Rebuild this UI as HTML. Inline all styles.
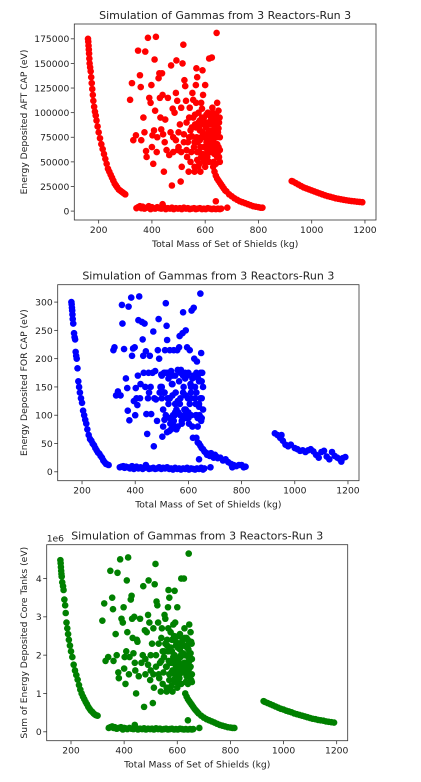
<!DOCTYPE html>
<html><head><meta charset="utf-8"><style>
html,body{margin:0;padding:0;background:#fff;}
svg{display:block;font-family:"DejaVu Sans","Liberation Sans",sans-serif;}
</style></head><body>
<svg id="fig" width="421" height="782" viewBox="0 0 421 782"></svg>
<script>
// ---------- Chart 1: AFT CAP ----------
const aftCurveAX=[160,161,162,163,164,165,166,168,170,172,174,176,178,180,183,186,189,192,196,200,205,210,215,220,225,230,235,240,245,250,255,260,265,270,275,280,285,290,295,300];
const aftCurveAY=[175000,172000,168000,164000,160000,155000,150000,146000,142000,136000,130000,124000,118000,112000,106000,101000,97000,92000,86000,80000,74000,68000,63000,58000,53000,48000,43000,40000,37000,34000,31000,28000,26000,24000,22000,21000,20000,19000,18000,17000];
const aftClusterX=[318,325,330,340,348,355,358,360,368,372,375,378,380,385,390,395,398,400,402,405,408,410,412,415,418,420,425,428,430,432,435,438,440,442,445,448,450,455,460,465,470,472,475,478,480,485,490,492,495,498,500,505,508,510,512,515,518,520,522,525,528,530,532,535,538,540,542,545,548,550,552,555,558,560,562,565,567,570,572,575,578,580,582,585,588,590,592,595,598,600,602,605,608,610,612,615,617,620,622,625,627,630,632,635,637,640,642,645,648,650,652,655,643,560,570,580,590,600,610,620,630,640,650,585,595,605,615,625,635,645,655];
const aftClusterY=[113000,130000,72000,77000,163000,138000,126000,72000,95000,80000,162000,61000,55000,176000,115000,110000,128000,65000,77000,48000,82000,154000,102000,177000,60000,75000,135000,140000,115000,95000,83000,140000,118000,78000,40000,70000,93000,62000,115000,57000,80000,148000,26000,104000,75000,100000,120000,153000,112000,62000,80000,88000,30000,105000,45000,150000,169000,78000,133000,127000,112000,90000,55000,70000,40000,95000,105000,82000,60000,76000,120000,113000,65000,45000,88000,128000,145000,136000,70000,100000,60000,82000,40000,110000,95000,143000,75000,65000,50000,128000,85000,70000,55000,100000,75000,155000,90000,60000,80000,156000,105000,70000,50000,95000,85000,60000,75000,110000,80000,65000,90000,50000,181000,40000,52000,92000,58000,45000,62000,92000,78000,48000,102000,75000,88000,98000,68000,88000,65000,55000,75000];
const aftDenseX=[560,565,570,575,580,585,590,595,600,605,610,615,620,625,630,635,640,645,650,655,562,568,574,582,588,594,602,608,614,622,628,634,642,648,654,566,578,592,604,618,632,646,652,576,598,612,626,638,530,540,550,520,545,555,510,500,490,480];
const aftDenseY=[70000,85000,60000,90000,72000,55000,80000,95000,65000,78000,88000,50000,70000,92000,82000,58000,98000,68000,84000,62000,98000,75000,45000,65000,104000,52000,90000,62000,82000,68000,100000,74000,88000,60000,95000,110000,48000,118000,58000,97000,63000,76000,55000,85000,76000,66000,73000,92000,62000,75000,85000,70000,50000,95000,60000,65000,72000,60000];
const bottomX=[342,348,355,360,365,372,380,388,395,400,405,412,420,428,435,440,445,452,460,468,475,482,490,498,505,512,520,528,535,542,550,558,565,572,580,588,595,602,610,618,625,632,640,648,655,660,640,683];
const aftBottomY=[3000,4000,5000,3000,4500,2500,3500,5000,2000,4000,3000,2500,4000,3000,2500,7000,4000,2000,3000,2500,3500,2000,3000,2500,3000,2000,3500,2500,3000,2000,2500,3000,2000,2500,3000,2000,2500,2000,3000,2500,2000,2500,2000,2500,2000,2500,10000,3500];
const aftCurveBX=[630,635,640,645,650,655,660,665,670,675,680,690,700,710,720,730,740,750,760,770,780,790,800,808,815];
const aftCurveBY=[45000,40000,36000,33000,31000,29000,27000,25000,23000,21000,20000,17000,15000,13000,11500,10000,9000,8000,7000,6000,5000,4500,4000,3500,3500];
const aftCurveCX=[925,930,940,950,960,970,980,990,1000,1010,1020,1030,1040,1050,1060,1070,1080,1090,1100,1110,1120,1130,1140,1150,1160,1170,1180,1190];
const aftCurveCY=[30500,30000,28500,27000,25500,24000,23000,22000,21000,20000,19000,18000,17000,16000,15200,14500,13800,13000,12500,12000,11500,11000,10600,10200,9900,9600,9300,9000];
const aftTicks=[0,25000,50000,75000,100000,125000,150000,175000];

// ---------- Chart 2: FOR CAP ----------
const forCurveAX=[160,161,162,163,164,165,167,170,172,174,176,178,180,183,186,189,192,196,200,204,208,212,216,220,225,230,235,240,245,250,255,260,265,270,275,280,285,290,295,300];
const forCurveAY=[300,296,290,285,278,270,262,245,238,234,212,205,200,183,160,150,140,130,122,108,100,92,85,75,65,58,55,50,47,42,38,34,32,28,25,20,17,14,13,12];
const forClusterX=[318,322,328,335,345,350,352,358,365,370,372,375,378,385,388,392,395,398,400,402,405,408,410,412,415,418,420,425,428,430,432,435,438,440,442,445,448,450,452,455,458,460,465,468,470,472,475,478,482,485,488,490,492,495,498,500,502,505,508,510,512,515,518,520,522,525,528,530,532,535,538,540,542,545,548,550,552,555,558,560,562,565,567,570,572,575,578,580,582,585,588,590,592,595,598,600,602,605,608,610,612,615,617,620,622,625,627,630,632,635,637,640,642,645,648,650,652,655,560,570,580,590,600,610,620,630,640,650,540,550,530,520,510,500];
const forClusterY=[215,220,135,142,135,295,262,217,165,148,108,292,91,308,205,218,125,220,100,148,130,118,170,268,310,130,155,265,234,205,175,262,150,213,102,67,130,175,140,205,150,102,175,248,45,130,178,128,90,215,270,200,140,150,172,130,62,110,175,92,215,298,258,233,130,165,72,215,85,178,155,135,100,215,80,170,140,75,215,180,105,220,240,130,180,90,245,282,150,110,165,250,95,220,130,175,85,215,155,100,285,165,60,290,200,130,120,175,195,80,165,160,100,315,210,130,175,110,125,100,170,135,105,150,170,140,115,95,170,105,130,175,140,170];
const forDenseX=[505,515,525,535,545,555,565,575,585,595,605,615,625,635,645,650,510,520,530,540,550,560,570,580,590,600,610,620,630,640,648,655,500,512,528,548,568,588,608,628,646];
const forDenseY=[80,100,120,75,90,110,160,85,100,170,120,80,150,95,130,160,140,70,95,155,120,80,175,140,110,95,140,170,100,120,90,150,150,175,130,100,120,175,130,100,175];
const forBottomY=[8,9,10,7,9,8,6,10,5,7,9,6,8,5,7,12,8,5,6,7,5,6,8,5,7,6,8,5,6,4,7,5,6,4,6,5,7,4,6,5,4,6,5,7,4,6,22,8];
const forCurveBX=[630,635,640,645,650,655,660,665,670,675,680,685,690,695,700,705,710,720,730,740,750,760,765,770,780,790,800,808,815];
const forCurveBY=[60,52,50,46,42,40,36,34,30,32,28,33,30,25,30,27,24,25,20,22,17,14,8,12,10,12,12,8,9];
const forCurveCX=[925,935,945,950,955,965,975,985,1000,1010,1020,1030,1040,1050,1060,1070,1080,1090,1100,1110,1120,1130,1140,1150,1160,1170,1175,1180,1190];
const forCurveCY=[68,65,60,65,55,48,45,48,42,40,37,38,35,38,40,36,30,25,35,37,27,22,35,28,25,22,18,24,26];
const forTicks=[0,50,100,150,200,250,300];

// ---------- Chart 3: Core tanks ----------
const coreCurveAX=[160,161,162,163,164,165,167,170,172,175,178,180,183,186,189,192,196,200,205,210,215,220,225,230,235,240,245,250,255,260,265,270,275,280,285,290,295,300];
const coreCurveAY=[4.48,4.4,4.3,4.2,4.12,4.05,3.9,3.8,3.7,3.45,3.3,3.1,2.85,2.7,2.55,2.4,2.25,2.1,1.95,1.75,1.6,1.48,1.36,1.22,1.1,1.0,0.92,0.85,0.78,0.72,0.65,0.6,0.55,0.52,0.48,0.45,0.43,0.42];
const coreClusterX=aftClusterX.slice();
const coreClusterY=[2.9,3.35,1.85,1.95,4.2,3.5,3.2,1.85,2.55,2.0,4.15,1.55,1.4,4.5,2.95,2.85,3.25,1.65,1.95,1.25,2.1,3.95,2.6,4.55,1.5,1.95,3.45,3.55,2.95,2.45,2.05,3.0,1.8,1.6,1.0,2.4,2.35,1.45,2.95,1.8,2.0,3.8,0.65,2.65,1.9,2.6,3.05,3.95,2.85,1.35,2.0,2.3,0.75,2.7,1.15,3.85,4.38,2.0,3.4,3.3,2.85,2.3,1.4,1.8,1.05,2.45,2.7,2.1,1.55,1.95,3.05,2.95,1.7,1.15,2.25,3.25,3.7,3.5,1.8,2.6,1.55,2.1,1.05,2.8,2.45,3.68,1.95,1.7,1.3,3.25,2.2,1.8,1.4,2.55,1.95,4.0,2.3,1.55,2.05,4.0,2.7,1.8,1.3,2.45,2.2,1.55,1.95,2.8,2.05,1.7,2.35,1.3,4.65,1.05,1.35,2.4,1.5,1.15,1.6,2.4,2.0,1.25,2.6,1.95,2.25,2.5,1.75,2.25,1.7,1.45,1.9];
const coreDenseX=aftDenseX.slice();
const coreDenseY=[1.7,2.1,1.5,2.2,1.8,1.35,2.0,2.35,1.6,1.9,2.15,1.25,1.7,2.25,2.0,1.45,2.4,1.65,2.05,1.5,2.4,1.85,1.1,1.6,2.5,1.3,2.2,1.5,2.0,1.65,2.45,1.8,2.15,1.45,2.3,2.7,1.2,2.85,1.4,2.35,1.55,1.85,1.35,2.1,1.85,1.6,1.8,2.25,1.5,1.85,2.1,1.7,1.25,2.3,1.5,1.6,1.75,1.5];
const coreBottomY=[0.1,0.12,0.14,0.1,0.12,0.08,0.1,0.12,0.06,0.1,0.09,0.07,0.1,0.08,0.07,0.18,0.1,0.06,0.08,0.07,0.09,0.06,0.08,0.07,0.08,0.06,0.09,0.07,0.08,0.06,0.07,0.08,0.06,0.07,0.08,0.06,0.07,0.06,0.08,0.07,0.06,0.07,0.06,0.07,0.06,0.07,0.3,0.1];
const coreCurveBX=[630,635,640,645,650,655,660,665,670,675,680,690,700,710,720,730,740,750,760,770,780,790,800,808,815];
const coreCurveBY=[1.0,0.92,0.85,0.8,0.75,0.7,0.65,0.6,0.56,0.52,0.48,0.42,0.37,0.33,0.3,0.27,0.24,0.21,0.18,0.16,0.14,0.12,0.11,0.1,0.1];
const coreCurveCX=[925,930,940,950,960,970,980,990,1000,1010,1020,1030,1040,1050,1060,1070,1080,1090,1100,1110,1120,1130,1140,1150,1160,1170,1180,1190];
const coreCurveCY=[0.8,0.78,0.75,0.72,0.69,0.66,0.63,0.6,0.58,0.55,0.53,0.51,0.48,0.46,0.44,0.42,0.4,0.38,0.36,0.34,0.33,0.31,0.3,0.29,0.27,0.26,0.25,0.24];
const coreTicks=[0,1,2,3,4];

const xTicks=[200,400,600,800,1000,1200];
const NS="http://www.w3.org/2000/svg";
const fig=document.getElementById('fig');

function mk(tag,attrs,parent){const e=document.createElementNS(NS,tag);for(const k in attrs)e.setAttribute(k,attrs[k]);parent.appendChild(e);return e;}

function drawChart(cfg,xs,ys){
  const g=mk('g',{},fig);
  
  
  const L=cfg.box[0],R=cfg.box[1],T=cfg.box[2],B=cfg.box[3];
  const xmin=108.5,xmax=1241.5;
  let ymax=-Infinity;ys.forEach(v=>{if(v>ymax)ymax=v;});
  const ymin=-ymax*0.05,ymx=ymax*1.05;
  const sx=v=>L+(v-xmin)/(xmax-xmin)*(R-L);
  const sy=v=>B-(v-ymin)/(ymx-ymin)*(B-T);
  for(let i=0;i<xs.length;i++){
    const c=mk('circle',{cx:sx(xs[i]).toFixed(2),cy:sy(ys[i]).toFixed(2),r:3.3,fill:cfg.color},g);
    
    
  }
  const frame=mk('rect',{x:L,y:T,width:R-L,height:B-T,fill:'none',stroke:'#333','stroke-width':0.8},g);
  
  
  xTicks.forEach(t=>{
    const x=sx(t);
    mk('line',{x1:x,x2:x,y1:B,y2:B+3.5,stroke:'#333','stroke-width':0.8},g);
    const tx=mk('text',{x:x,y:B+13,'font-size':9.2,'text-anchor':'middle',fill:'#222'},g);
    tx.textContent=t;
    
    
  });
  cfg.ticks.forEach(t=>{
    const y=sy(t);
    mk('line',{x1:L-3.5,x2:L,y1:y,y2:y,stroke:'#333','stroke-width':0.8},g);
    const tx=mk('text',{x:L-5,y:y+3.4,'font-size':9.2,'text-anchor':'end',fill:'#222'},g);
    tx.textContent=t;
    
    
  });
  const ti=mk('text',{x:(L+R)/2,y:T-5,'font-size':11,'text-anchor':'middle',fill:'#222'},g);
  ti.textContent='Simulation of Gammas from 3 Reactors-Run 3';
  
  
  const xl=mk('text',{x:(L+R)/2,y:B+27,'font-size':9.2,'text-anchor':'middle',fill:'#222'},g);
  xl.textContent='Total Mass of Set of Shields (kg)';
  
  
  const yc=(T+B)/2;
  const yl=mk('text',{x:cfg.ylx,y:yc,'font-size':9.2,'text-anchor':'middle',fill:'#222',transform:'rotate(-90 '+cfg.ylx+' '+yc+')'},g);
  yl.textContent=cfg.ylabel;
  
  
  if(cfg.offset){
    const o=mk('text',{x:L,y:T-3,'font-size':9.2,fill:'#222'},g);
    o.textContent=cfg.offset;
    
    
  }
}

drawChart({name:'aft-cap-chart',box:[74.3,376,24,220],color:'#ff0000',ticks:aftTicks,ylx:27,ylabel:'Energy Deposited AFT CAP (eV)'},
  aftCurveAX.concat(aftClusterX,aftDenseX,bottomX,aftCurveBX,aftCurveCX),
  aftCurveAY.concat(aftClusterY,aftDenseY,aftBottomY,aftCurveBY,aftCurveCY));
drawChart({name:'for-cap-chart',box:[57.7,359,284.7,480.7],color:'#0000ff',ticks:forTicks,ylx:27,ylabel:'Energy Deposited FOR CAP (eV)'},
  forCurveAX.concat(forClusterX,forDenseX,bottomX,forCurveBX,forCurveCX),
  forCurveAY.concat(forClusterY,forDenseY,forBottomY,forCurveBY,forCurveCY));
drawChart({name:'core-tanks-chart',box:[46.7,347.7,544.7,740.7],color:'#008000',ticks:coreTicks,ylx:27,ylabel:'Sum of Energy Deposited Core Tanks (eV)',offset:'1e6'},
  coreCurveAX.concat(coreClusterX,coreDenseX,bottomX,coreCurveBX,coreCurveCX),
  coreCurveAY.concat(coreClusterY,coreDenseY,coreBottomY,coreCurveBY,coreCurveCY));
</script>
</body></html>
